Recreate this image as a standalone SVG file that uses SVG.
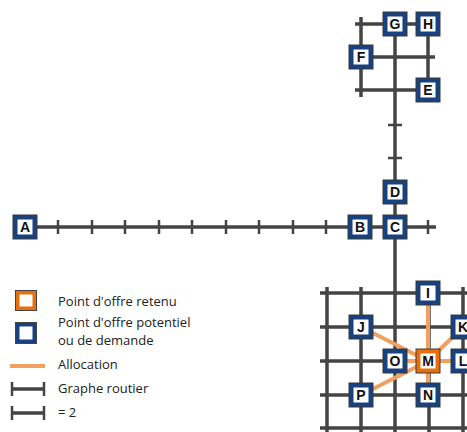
<svg xmlns="http://www.w3.org/2000/svg" width="467" height="432" viewBox="0 0 467 432">
<defs>
<style>
.road{stroke:#444;stroke-width:3.5;fill:none}
.tick{stroke:#444;stroke-width:2.5;fill:none}
.alloc{stroke:#f0a060;stroke-width:4;fill:none;stroke-linecap:butt}
.nb{fill:#17417f;stroke:#3a3a3a;stroke-width:1}
.no{fill:#e8700c;stroke:#3a3a3a;stroke-width:1}
.ni{fill:#fff}
.nl{font-family:"Liberation Sans",Arial,sans-serif;font-size:14px;font-weight:bold;fill:#111;text-anchor:middle}
.lg{font-family:"Open Sans","Noto Sans",sans-serif;font-size:13px;fill:#222}
</style>
<g id="n" >
<rect class="nb" x="-12" y="-12" width="24" height="24"/>
<rect class="ni" x="-7.5" y="-7.5" width="15" height="15"/>
</g>
<g id="m">
<rect class="no" x="-12" y="-12" width="24" height="24"/>
<rect class="ni" x="-7.5" y="-7.5" width="15" height="15"/>
</g>
</defs>
<rect width="467" height="432" fill="#fff"/>
<g id="connectors">
<path class="road" d="M25 227H436"/>
<path class="tick" d="M58 220v14M92 220v14M125 220v14M159 220v14M192 220v14M226 220v14M259 220v14M293 220v14M326 220v14M428 220v14"/>
<path class="road" d="M395 24V432"/>
<path class="tick" d="M388 125h14M388 158h14"/>
<path class="road" d="M355 24H428M361 17V97M361 57H435M355 90H428M428 24V90"/>
<path class="road" d="M320 293H467M320 327H467M320 361H467M320 395H467M320 428H467M327 287V432M361 287V432M429 287V432M463 287V432"/>
<path class="alloc" d="M428 361L428 293M428 361L361 327M428 361L463 327M428 361L395 361M428 361L463 361M428 361L428 395M428 361L361 395"/>
</g>
<g id="node-A"><use href="#n" x="25" y="227"/><text class="nl" x="25" y="232">A</text></g>
<g id="node-B"><use href="#n" x="360" y="227"/><text class="nl" x="360" y="232">B</text></g>
<g id="node-C"><use href="#n" x="395" y="227"/><text class="nl" x="395" y="232">C</text></g>
<g id="node-D"><use href="#n" x="395" y="192"/><text class="nl" x="395" y="197">D</text></g>
<g id="node-E"><use href="#n" x="428" y="90"/><text class="nl" x="428" y="95">E</text></g>
<g id="node-F"><use href="#n" x="361" y="57"/><text class="nl" x="361" y="62">F</text></g>
<g id="node-G"><use href="#n" x="395" y="24"/><text class="nl" x="395" y="29">G</text></g>
<g id="node-H"><use href="#n" x="428" y="24"/><text class="nl" x="428" y="29">H</text></g>
<g id="node-I"><use href="#n" x="428" y="293"/><text class="nl" x="428" y="298">I</text></g>
<g id="node-J"><use href="#n" x="361" y="327"/><text class="nl" x="361" y="332">J</text></g>
<g id="node-K"><use href="#n" x="463" y="327"/><text class="nl" x="463" y="332">K</text></g>
<g id="node-L"><use href="#n" x="463" y="361"/><text class="nl" x="463" y="366">L</text></g>
<g id="node-O"><use href="#n" x="395" y="361"/><text class="nl" x="395" y="366">O</text></g>
<g id="node-M"><use href="#m" x="428" y="361"/><text class="nl" x="428" y="366">M</text></g>
<g id="node-P"><use href="#n" x="361" y="395"/><text class="nl" x="361" y="400">P</text></g>
<g id="node-N"><use href="#n" x="428" y="395"/><text class="nl" x="428" y="400">N</text></g>
<g id="legend">
<rect x="15.5" y="290.5" width="21" height="20" fill="#e8700c" stroke="#444" stroke-width="1"/>
<rect x="19.5" y="294.5" width="13" height="12" fill="#fff"/>
<rect x="15.5" y="322.5" width="21" height="21" fill="#17417f" stroke="#444" stroke-width="1"/>
<rect x="19.5" y="326.5" width="13" height="13" fill="#fff"/>
<path d="M10 366H45" stroke="#f0a060" stroke-width="4"/>
<path class="road" d="M12 389H44"/>
<path class="tick" d="M12 382v14M44 382v14"/>
<path class="road" d="M12 413H44"/>
<path class="tick" d="M12 406v14M44 406v14"/>
<text class="lg" x="58" y="306">Point d'offre retenu</text>
<text class="lg" x="58" y="327">Point d'offre potentiel</text>
<text class="lg" x="58" y="345">ou de demande</text>
<text class="lg" x="58" y="369">Allocation</text>
<text class="lg" x="58" y="393">Graphe routier</text>
<text class="lg" x="58" y="417">= 2</text>
</g>
</svg>
